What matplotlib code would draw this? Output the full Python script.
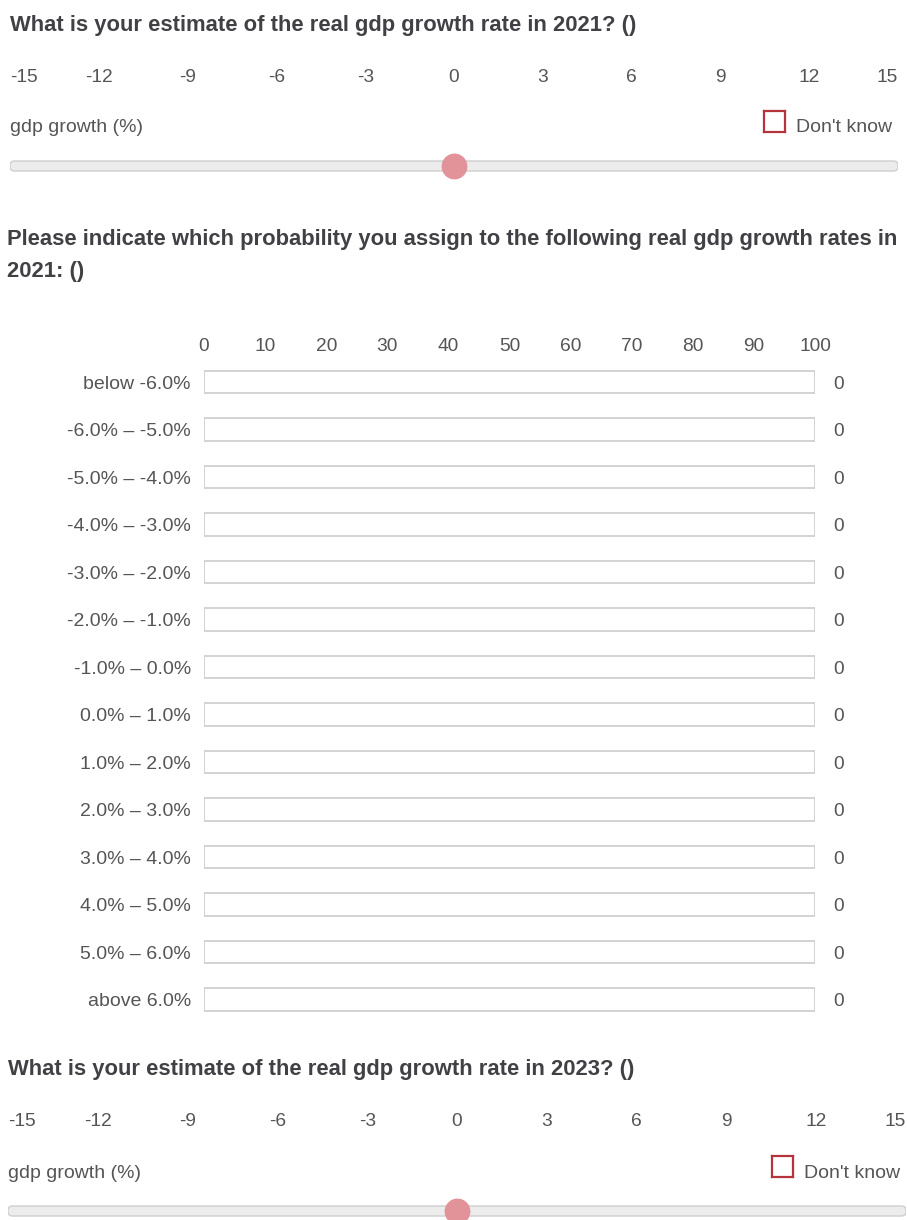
import numpy as np
import matplotlib.pyplot as plt
from matplotlib.patches import FancyBboxPatch

# fonts and colours
plt.rcParams["font.family"] = ["Liberation Sans", "DejaVu Sans"]
titleColor = "#404045"
textColor = "#555555"
thumbColor = "#e2939a"
trackColor = "#ececec"
trackEdge = "#cfcfcf"
boxEdge = "#cccccc"
checkRed = "#b3343d"

# data
slider_ticks = [-15, -12, -9, -6, -3, 0, 3, 6, 9, 12, 15]
slider_years = ["2021", "2023"]
slider_values = [0, 0]

prob_ticks = [0, 10, 20, 30, 40, 50, 60, 70, 80, 90, 100]
bins = ["below -6.0%", "-6.0% \u2013 -5.0%", "-5.0% \u2013 -4.0%", "-4.0% \u2013 -3.0%",
        "-3.0% \u2013 -2.0%", "-2.0% \u2013 -1.0%", "-1.0% \u2013 0.0%", "0.0% \u2013 1.0%",
        "1.0% \u2013 2.0%", "2.0% \u2013 3.0%", "3.0% \u2013 4.0%", "4.0% \u2013 5.0%",
        "5.0% \u2013 6.0%", "above 6.0%"]
probs = [0, 0, 0, 0, 0, 0, 0, 0, 0, 0, 0, 0, 0, 0]

# text sizes
titleSize = 15.8
labelSize = 14
tickSize = 13.8

W, H = 907, 1220
fig = plt.figure(figsize=(W / 100, H / 100), dpi=100)


def fx(x):
    return x / W


def fy(y):
    return 1 - y / H


def slider(year, value, top, left, right):
    # question title
    fig.text(fx(left), fy(top + 25), "What is your estimate of the real gdp growth rate in %s? ()" % year,
             fontsize=titleSize, fontweight="bold", color=titleColor, va="center", ha="left")
    # axes from tick label row down to the track
    ax = fig.add_axes([fx(left), fy(top + 185), fx(right - left), (185 - 60) / H])
    ax.set_xlim(slider_ticks[0], slider_ticks[-1])
    ax.set_ylim(185, 60)
    ax.axis("off")
    # tick labels, ends are kept inside the track
    for i, t in enumerate(slider_ticks):
        ha = "center"
        if i == 0:
            ha = "left"
        elif i == len(slider_ticks) - 1:
            ha = "right"
        ax.text(t, 75, str(t), ha=ha, va="center_baseline", fontsize=tickSize, color=textColor)
    fig.text(fx(left), fy(top + 126), "gdp growth (%)", fontsize=labelSize, color=textColor,
             va="center_baseline")
    # don't know checkbox
    cb = fig.add_axes([fx(right - 134), fy(top + 132), 21 / W, 21 / H])
    cb.set_xticks([])
    cb.set_yticks([])
    for s in cb.spines.values():
        s.set_color(checkRed)
        s.set_linewidth(1.6)
    fig.text(fx(right - 102), fy(top + 126), "Don't know", fontsize=labelSize, color=textColor,
             va="center_baseline")
    # track
    track = FancyBboxPatch((slider_ticks[0], 161), slider_ticks[-1] - slider_ticks[0], 10,
                           boxstyle="round,pad=0,rounding_size=0.15", mutation_aspect=30,
                           facecolor=trackColor, edgecolor=trackEdge, linewidth=1)
    ax.add_patch(track)
    ax.scatter([value], [166], s=310, color=thumbColor, zorder=3, clip_on=False)
    return ax


slider(slider_years[0], slider_values[0], 0, 10, 898)

# probability question
fig.text(fx(7), fy(240), "Please indicate which probability you assign to the following real gdp growth rates in",
         fontsize=titleSize, fontweight="bold", color=titleColor, va="center")
fig.text(fx(7), fy(272), "2021: ()", fontsize=titleSize, fontweight="bold", color=titleColor, va="center")

rowStep = 47.5
n = len(bins)
axp = fig.add_axes([fx(204), fy(382 - rowStep / 2 + n * rowStep), fx(815 - 204), n * rowStep / H])
rows = np.arange(n)
axp.barh(rows, [prob_ticks[-1]] * n, height=0.48, color="white", edgecolor=boxEdge, linewidth=1.2)
axp.barh(rows, probs, height=0.48, color=thumbColor)
axp.set_xlim(prob_ticks[0], prob_ticks[-1])
axp.set_ylim(n - 0.5, -0.5)
axp.xaxis.tick_top()
axp.set_xticks(prob_ticks)
axp.set_xticklabels([str(t) for t in prob_ticks])
axp.set_yticks(rows)
axp.set_yticklabels(bins)
axp.tick_params(axis="x", length=0, labelsize=tickSize, labelcolor=textColor, pad=2)
axp.tick_params(axis="y", length=0, labelsize=labelSize, labelcolor=textColor, pad=9.5)
for s in axp.spines.values():
    s.set_visible(False)
for i, v in enumerate(probs):
    axp.annotate(str(v), xy=(prob_ticks[-1], i), xytext=(17, 0), textcoords="offset points",
                 ha="center", va="center_baseline", fontsize=tickSize, color=textColor)

slider(slider_years[1], slider_values[1], 1045, 8, 906)

plt.savefig("out.png", dpi=100)
